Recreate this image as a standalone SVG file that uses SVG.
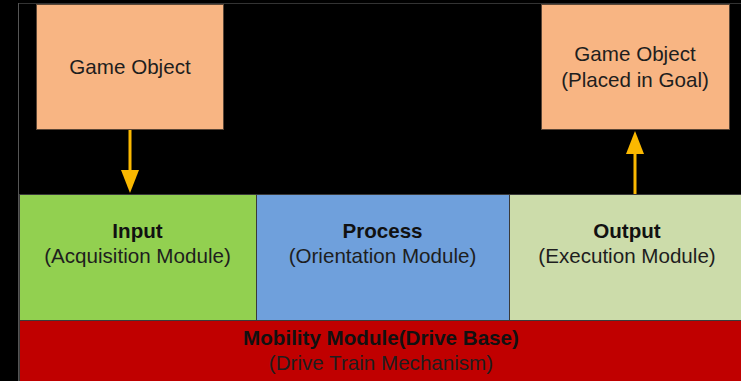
<svg xmlns="http://www.w3.org/2000/svg" width="741" height="381" viewBox="0 0 741 381">
<style>
.box{stroke:#3a3a3a;stroke-width:1}
.obj{fill:#F8B583;stroke:#5a4636;stroke-width:1}
text{font-family:"Liberation Sans",Arial,sans-serif;font-size:20.6px;fill:#1e1e1e;text-anchor:middle}
.b{font-weight:bold;fill:#111}
.arrow{stroke:#FBB800;stroke-width:3;fill:none}
.head{fill:#FBB800}
</style>
<rect x="0" y="0" width="741" height="381" fill="#000"/>
<line x1="18" y1="3.5" x2="741" y2="3.5" stroke="#333" stroke-width="1"/>
<line x1="18.5" y1="3" x2="18.5" y2="381" stroke="#555" stroke-width="1"/>
<g id="game-object-in">
<rect class="obj" x="36.5" y="4.5" width="187" height="125"/>
<text x="130" y="73.5">Game Object</text>
</g>
<g id="game-object-out">
<rect class="obj" x="541.5" y="4.5" width="188" height="125"/>
<text x="635" y="61">Game Object</text>
<text x="635" y="87">(Placed in Goal)</text>
</g>
<g id="input">
<rect class="box" x="19.5" y="194.5" width="237" height="126" fill="#92D050"/>
<text class="b" x="137.5" y="238">Input</text>
<text x="137.5" y="263">(Acquisition Module)</text>
</g>
<g id="process">
<rect class="box" x="256.5" y="194.5" width="253" height="126" fill="#6FA0DC"/>
<text class="b" x="382.5" y="238">Process</text>
<text x="382.5" y="263">(Orientation Module)</text>
</g>
<g id="output">
<rect class="box" x="509.5" y="194.5" width="240" height="126" fill="#CCDCAA"/>
<text class="b" x="627" y="238">Output</text>
<text x="627" y="263">(Execution Module)</text>
</g>
<g id="mobility">
<rect class="box" x="19.5" y="320.5" width="730" height="70" fill="#C00000" stroke="#5a0000"/>
<text class="b" x="381" y="345">Mobility Module(Drive Base)</text>
<text x="381" y="370">(Drive Train Mechanism)</text>
</g>
<g id="connectors">
<line class="arrow" x1="130" y1="130" x2="130" y2="171"/>
<path class="head" d="M121,170 L139,170 L130,193 Z"/>
<line class="arrow" x1="635" y1="194" x2="635" y2="152"/>
<path class="head" d="M626,154 L644,154 L635,131 Z"/>
</g>
</svg>
